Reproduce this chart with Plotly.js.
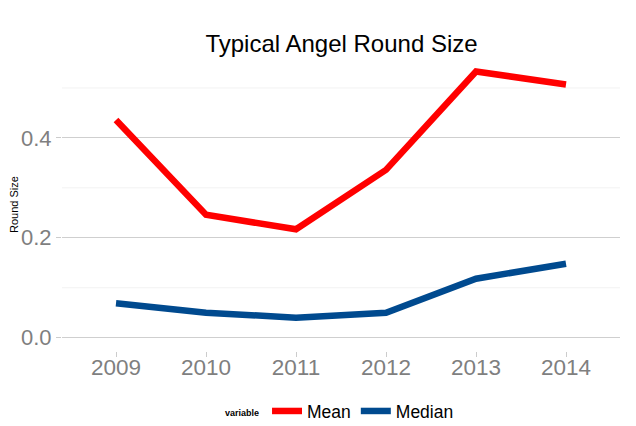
<!DOCTYPE html>
<html>
<head>
<meta charset="utf-8">
<script src="https://cdn.plot.ly/plotly-3.0.1.min.js"></script>
<style>html,body{margin:0;padding:0;background:#fff;}#chart{width:636px;height:426px;}</style>
</head>
<body>
<div id="chart"></div>
<script>
const years = [2009, 2010, 2011, 2012, 2013, 2014];
const meanValues = [0.436, 0.246, 0.217, 0.336, 0.533, 0.507];
const medianValues = [0.069, 0.050, 0.040, 0.050, 0.118, 0.148];
const yTickVals = [0.0, 0.2, 0.4];
const yTickText = ['0.0', '0.2', '0.4'];
const minorVals = [0.1, 0.3, 0.5];

const traces = [
  {x: years, y: meanValues, name: 'Mean', type: 'scatter', mode: 'lines',
   line: {color: '#ff0000', width: 6.5}},
  {x: years, y: medianValues, name: 'Median', type: 'scatter', mode: 'lines',
   line: {color: '#004a8f', width: 6.5}}
];

const shapes = minorVals.map(v => ({
  type: 'line', xref: 'paper', x0: 0, x1: 1, yref: 'y', y0: v, y1: v,
  line: {color: '#f2f2f2', width: 1}, layer: 'below'
}));

const layout = {
  width: 636, height: 426,
  margin: {l: 62, r: 16, t: 58, b: 75, autoexpand: false},
  paper_bgcolor: '#ffffff', plot_bgcolor: '#ffffff',
  font: {family: 'Liberation Sans, Arial, sans-serif'},
  title: {text: 'Typical Angel Round Size', font: {size: 24, color: '#000'},
          x: 0.537, xanchor: 'center', yref: 'container', y: 0.897, yanchor: 'middle'},
  xaxis: {range: [2008.4, 2014.6], tickvals: years, ticktext: years.map(String),
          showgrid: false, zeroline: false, showline: false,
          ticks: 'outside', ticklen: 5, tickcolor: '#cccccc', ticklabelstandoff: -9,
          tickfont: {size: 22.5, color: '#7f7f7f'}},
  yaxis: {range: [-0.0267, 0.56], tickvals: yTickVals, ticktext: yTickText,
          showgrid: true, gridcolor: '#cfcfcf', gridwidth: 1, zeroline: false, showline: false,
          ticks: 'outside', ticklen: 5, tickcolor: '#cccccc', automargin: true,
          tickfont: {size: 22, color: '#7f7f7f'},
          title: {text: 'Round Size', font: {size: 11, color: '#000'}, standoff: 0}},
  shapes: shapes,
  showlegend: true,
  legend: {orientation: 'h', x: 0.5, xanchor: 'center', yref: 'container', y: 0.035, yanchor: 'middle',
           font: {size: 17.5, color: '#000'},
           title: {text: '<span style="font-size:9px"><b>variable</b></span>',
                   font: {size: 17.5, color: '#000'}, side: 'left'},
           itemwidth: 30, tracegroupgap: 0}
};

Plotly.newPlot('chart', traces, layout, {displayModeBar: false, staticPlot: true});
</script>
</body>
</html>
